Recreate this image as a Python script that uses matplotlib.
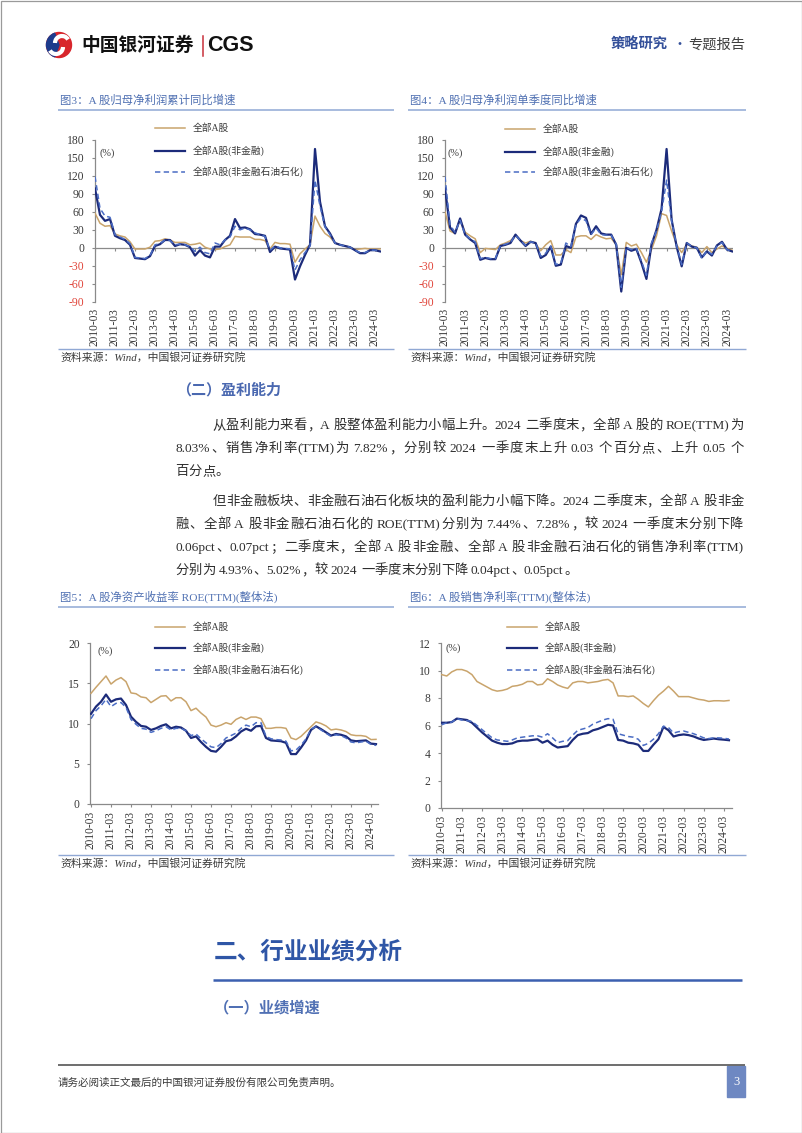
import numpy as np
import matplotlib
matplotlib.use('Agg')
import matplotlib.pyplot as plt
from matplotlib.patches import Rectangle, Wedge, Arc

W, H = 802, 1133
CJK = 'Noto Sans CJK SC'
SERIF = ['Liberation Serif', CJK]
SANS = ['Liberation Sans', CJK]
plt.rcParams['font.family'] = SERIF

# ---------------- data ----------------
years = list(range(2010, 2025))
quarters = [f'{y}-{m}' for y in years for m in ('03', '06', '09', '12')][:58]
tick_labels = [f'{y}-03' for y in years]
series_names = ['全部A股', '全部A股(非金融)', '全部A股(非金融石油石化)']

# Fig3: cumulative YoY growth of net profit (%)
c3_all = [58, 41, 36, 37, 23, 20, 18, 10, -2, -2, -2, 1, 11, 12, 15, 13, 9, 9, 9, 5,
          6, 8, 1, -2, -3, -2, 2, 5, 19, 18, 18, 18, 14, 14, 12, -2, 9, 7, 7, 6,
          -24, -10, -2, 5, 53, 36, 24, 18, 8, 5, 3, 1, -3, -2, -1, -2, -2, -2]
c3_nf = [99, 55, 45, 48, 20, 16, 13, 5, -17, -18, -19, -14, 3, 6, 13, 13, 3, 6, 5, 1,
         -13, -4, -13, -16, 2, 2, 13, 20, 48, 33, 34, 31, 23, 22, 20, -7, 2, -1, -2, -3,
         -53, -31, -12, 5, 165, 77, 36, 24, 8, 5, 3, 1, -4, -9, -9, -4, -4, -6]
c3_nfp = [119, 66, 53, 51, 22, 18, 14, 7, -16, -17, -18, -13, 5, 7, 13, 12, 5, 6, 5, 2,
          -6, 1, -8, -10, 8, 5, 13, 18, 36, 30, 33, 30, 25, 22, 19, -4, 3, 0, -1, -2,
          -37, -20, -8, 3, 113, 70, 35, 22, 8, 5, 3, 1, -4, -8, -8, -4, -4, -5]

# Fig4: single-quarter YoY growth of net profit (%)
c4_all = [60, 28, 24, 48, 26, 20, 15, -8, -1, -2, -3, 5, 8, 12, 20, 12, 8, 11, 7, -5,
          5, 12, -12, -12, -3, -8, 18, 20, 20, 14, 22, 18, 15, 16, 5, -45, 9, 3, 6, -8,
          -24, -3, 20, 57, 54, 28, 5, -8, 6, 3, 1, -8, 2, -8, -2, 3, -1, -4]
c4_nf = [99, 34, 24, 49, 22, 14, 8, -20, -17, -19, -19, 3, 5, 8, 22, 12, 3, 10, 8, -17,
         -12, 2, -30, -28, 3, 0, 40, 54, 50, 23, 36, 24, 22, 22, 5, -73, 0, -5, -2, -25,
         -52, 5, 30, 65, 165, 47, 2, -31, 8, 2, 0, -16, -6, -13, 4, 10, -3, -6]
c4_nfp = [119, 38, 26, 46, 22, 15, 10, -18, -16, -18, -18, 4, 6, 9, 21, 12, 4, 10, 8, -14,
          -9, 3, -28, -26, 8, 2, 38, 50, 45, 22, 33, 22, 21, 21, 6, -66, 1, -3, -1, -22,
          -46, 8, 28, 60, 113, 45, 3, -28, 8, 2, 0, -18, -5, -11, 3, 9, -3, -6]

# Fig5: ROE (TTM) (%)
c5_all = [13.75, 14.5, 15.2, 15.9, 14.9, 15.4, 15.7, 15.2, 13.8, 13.7,
          13.3, 13.2, 12.6, 13.0, 13.4, 13.45, 12.8, 13.2, 13.2, 12.7,
          11.6, 11.9, 11.3, 10.8, 9.8, 9.6, 9.8, 10.1, 9.9, 10.5,
          10.8, 10.5, 10.8, 10.8, 10.6, 9.4, 9.4, 9.5, 9.5, 9.4,
          8.2, 8.0, 8.4, 9.0, 9.6, 10.2, 10.0, 9.7, 9.2, 9.3,
          9.2, 9.0, 8.6, 8.5, 8.5, 8.4, 8.0, 8.03]
c5_nf = [11.2, 12.1, 12.7, 13.6, 12.7, 13.0, 13.1, 12.3, 10.85, 10.2,
         9.7, 9.6, 9.2, 9.4, 9.7, 9.9, 9.4, 9.6, 9.5, 9.1,
         8.2, 8.4, 7.7, 7.1, 6.6, 6.5, 7.1, 7.8, 7.95, 8.4,
         9.0, 9.35, 9.1, 9.65, 9.7, 8.2, 7.9, 7.85, 7.8, 7.6,
         6.2, 6.2, 7.0, 7.9, 9.2, 9.65, 9.3, 8.9, 8.5, 8.7,
         8.6, 8.4, 7.9, 7.8, 7.85, 7.9, 7.5, 7.44]
c5_nfp = [10.6, 11.6, 12.2, 13.0, 12.1, 12.5, 12.6, 12.0, 10.5, 9.9,
          9.4, 9.3, 8.9, 9.1, 9.4, 9.6, 9.2, 9.4, 9.4, 9.1,
          8.5, 8.7, 8.1, 7.6, 7.1, 7.0, 7.5, 8.2, 8.5, 8.8,
          9.4, 9.8, 9.6, 10.1, 10.1, 8.4, 8.1, 8.0, 7.95, 7.8,
          6.6, 6.7, 7.3, 8.1, 9.3, 9.6, 9.2, 8.8, 8.4, 8.6,
          8.5, 8.2, 7.7, 7.6, 7.7, 7.8, 7.4, 7.28]

# Fig6: net profit margin (TTM) (%)
c6_all = [9.7, 9.6, 9.9, 10.07, 10.07, 9.95, 9.7, 9.2, 9.0, 8.8,
          8.6, 8.5, 8.55, 8.65, 8.85, 8.9, 9.0, 9.2, 9.2, 8.95,
          9.0, 9.4, 9.2, 8.95, 8.8, 8.7, 9.1, 9.2, 9.2, 9.1,
          9.15, 9.2, 9.3, 9.35, 9.1, 8.15, 8.15, 8.1, 8.15, 7.9,
          7.6, 7.35, 7.8, 8.2, 8.5, 8.85, 8.5, 8.1, 8.1, 8.1,
          8.0, 7.9, 7.85, 7.75, 7.8, 7.8, 7.78, 7.82]
c6_nf = [6.2, 6.2, 6.25, 6.5, 6.45, 6.4, 6.2, 5.85, 5.5, 5.2,
         4.9, 4.75, 4.65, 4.65, 4.7, 4.85, 4.9, 4.9, 4.95, 5.0,
         4.75, 4.9, 4.6, 4.4, 4.45, 4.5, 4.95, 5.3, 5.4, 5.45,
         5.65, 5.75, 5.9, 6.05, 6.0, 4.95, 4.9, 4.75, 4.7, 4.6,
         4.15, 4.15, 4.6, 5.0, 5.9, 5.65, 5.2, 5.3, 5.35, 5.3,
         5.2, 5.05, 4.95, 5.0, 5.05, 5.0, 4.97, 4.93]
c6_nfp = [6.05, 6.2, 6.25, 6.5, 6.4, 6.35, 6.3, 6.0, 5.7, 5.4,
          5.1, 4.95, 4.9, 4.85, 4.95, 5.1, 5.15, 5.2, 5.25, 5.25,
          5.15, 5.4, 5.1, 4.75, 4.85, 4.9, 5.3, 5.65, 5.75, 5.85,
          6.1, 6.25, 6.4, 6.5, 6.45, 5.4, 5.3, 5.2, 5.15, 5.0,
          4.55, 4.7, 5.0, 5.4, 5.95, 5.85, 5.45, 5.55, 5.6, 5.5,
          5.4, 5.25, 5.1, 5.05, 5.1, 5.1, 5.07, 5.02]

titles = ['图3：A 股归母净利润累计同比增速', '图4：A 股归母净利润单季度同比增速',
          '图5：A 股净资产收益率 ROE(TTM)(整体法)', '图6：A 股销售净利率(TTM)(整体法)']
source_text = '资料来源：Wind，中国银河证券研究院'

para1 = ['从盈利能力来看，A 股整体盈利能力小幅上升。2024 二季度末，全部 A 股的 ROE(TTM)为',
         '8.03%、销售净利率(TTM)为 7.82%，分别较 2024 一季度末上升 0.03 个百分点、上升 0.05 个',
         '百分点。']
para2 = ['但非金融板块、非金融石油石化板块的盈利能力小幅下降。2024 二季度末，全部 A 股非金',
         '融、全部 A 股非金融石油石化的 ROE(TTM)分别为 7.44%、7.28%，较 2024 一季度末分别下降',
         '0.06pct、0.07pct；二季度末，全部 A 股非金融、全部 A 股非金融石油石化的销售净利率(TTM)',
         '分别为 4.93%、5.02%，较 2024 一季度末分别下降 0.04pct、0.05pct。']

# ---------------- style ----------------
TAN = '#c9a46c'
NAVY = '#1c2b7a'
DBLUE = '#4a6cc4'
AXG = '#8a8a8a'
TXT = '#3a3a3a'
RED = '#e0453a'
TITLEC = '#4f70b2'
ULINE = '#90a8d4'

fig = plt.figure(figsize=(W / 100, H / 100), dpi=100)
page = fig.add_axes([0, 0, 1, 1], zorder=0)
page.set_xlim(0, W)
page.set_ylim(H, 0)
page.axis('off')
renderer = fig.canvas.get_renderer()


def hline(x0, x1, y, color, lw):
    page.plot([x0, x1], [y, y], color=color, lw=lw, solid_capstyle='butt')


def tokenize(s):
    toks, cur, cur_sp, pend = [], '', False, False
    for ch in s:
        if ch == ' ':
            if cur:
                toks.append((cur, cur_sp, False))
                cur = ''
            pend = True
        elif ord(ch) >= 0x2E80:
            if cur:
                toks.append((cur, cur_sp, False))
                cur = ''
            toks.append((ch, pend, True))
            pend = False
        else:
            if not cur:
                cur_sp = pend
                pend = False
            cur += ch
    if cur:
        toks.append((cur, cur_sp, False))
    return toks


def put_line(s, x0, x1, y, size, color, justify=True):
    toks = tokenize(s)
    em = size * 100 / 72
    arts, widths = [], []
    for t, sp, is_cjk in toks:
        a = page.text(0, y, t, fontsize=size, color=color, family=SERIF,
                      va='baseline', ha='left')
        if is_cjk:
            w = em
        else:
            w = a.get_window_extent(renderer).width
        arts.append(a)
        widths.append(w)
    spw = em * 0.25
    gaps = [spw if sp else 0 for _, sp, _ in toks[1:]]
    add = 0
    if justify and len(toks) > 1:
        add = ((x1 - x0) - sum(widths) - sum(gaps)) / (len(toks) - 1)
    x = x0
    for i, (a, w) in enumerate(zip(arts, widths)):
        if i > 0:
            x += gaps[i - 1] + add
        a.set_x(x + (0.04 * em if toks[i][2] else 0))
        x += w


def make_chart(left, top, bottom, xstep, xlim, ylim, yticks, data, zero_axis, pct_xy, legend_x, legend_y):
    right = left + (xlim[1] - xlim[0]) * xstep
    ax = fig.add_axes([left / W, 1 - bottom / H, (right - left) / W, (bottom - top) / H], zorder=2)
    ax.set_facecolor('none')
    x = np.arange(len(quarters))
    a_, nf_, nfp_ = data
    ax.plot(x, a_, color=TAN, lw=1.1, zorder=3)
    ax.plot(x, nf_, color=NAVY, lw=1.6, zorder=4)
    ax.plot(x, nfp_, color=DBLUE, lw=1.1, ls=(0, (3.5, 2.2)), zorder=5)
    ax.set_xlim(*xlim)
    ax.set_ylim(*ylim)
    for sp in ('top', 'right'):
        ax.spines[sp].set_visible(False)
    ax.spines['left'].set_color(AXG)
    ax.spines['left'].set_linewidth(0.9)
    tpos = [quarters.index(t) for t in tick_labels]
    ax.set_xticks(tpos)
    ax.set_xticklabels(tick_labels, rotation=90, fontsize=8.3, color=TXT, family=SERIF)
    ax.set_yticks(yticks)
    ax.set_yticklabels([str(v) for v in yticks], fontsize=8.4, family=SERIF)
    for lbl, v in zip(ax.get_yticklabels(), yticks):
        lbl.set_color(RED if v < 0 else TXT)
    ax.tick_params(axis='y', length=2.5, width=0.8, color=AXG, pad=5)
    if zero_axis:
        ax.spines['bottom'].set_visible(False)
        ax.tick_params(axis='x', length=0, pad=4.5)
        ax.axhline(0, color=AXG, lw=0.9, zorder=2)
        tick_h = (ylim[1] - ylim[0]) * 0.018
        ax.vlines(tpos, -tick_h, 0, color=AXG, lw=0.8)
    else:
        ax.spines['bottom'].set_color(AXG)
        ax.spines['bottom'].set_linewidth(0.9)
        ax.tick_params(axis='x', length=2.5, width=0.8, color=AXG, pad=2.5)
    page.text(pct_xy[0], pct_xy[1], '(%)', fontsize=7.5, color=TXT, va='center', ha='left')
    # legend
    styles = [dict(color=TAN, lw=1.1), dict(color=NAVY, lw=1.6),
              dict(color=DBLUE, lw=1.1, ls=(0, (3.5, 2.2)))]
    for name, st, ly in zip(series_names, styles, legend_y):
        page.plot([legend_x, legend_x + 30], [ly, ly], **st)
        page.text(legend_x + 38, ly, name, fontsize=7.0, color=TXT, va='center', ha='left')
    return ax


# ---------------- page frame & header ----------------
page.add_patch(Rectangle((0.5, 0.5), W - 1, H - 1, fill=False, ec='#9a9a9a', lw=0.9))
# logo
page.add_patch(Wedge((59, 45), 12.5, 0, 360, color='#d8262c'))
page.add_patch(Wedge((59, 45), 12.5, 110, 250, color='#1d3b8c'))
page.add_patch(Arc((62, 43), 14, 14, theta1=180, theta2=330, color='white', lw=3))
page.add_patch(Arc((56, 47), 14, 14, theta1=0, theta2=150, color='white', lw=3))
page.text(81, 45.5, '中国银河证券', fontsize=13.5, weight='bold', family=CJK, color='#111111',
          va='center', ha='left')
page.plot([203, 203], [36, 56], color='#c8303a', lw=1.1)
page.text(207, 45.5, 'CGS', fontsize=15.5, weight='bold', family=SANS, color='#111111',
          va='center', ha='left')
page.text(611, 45, '策略研究', fontsize=10.3, weight='bold', family=CJK, color='#34509a',
          va='center', ha='left')
page.text(679, 45, '·', fontsize=10, family=CJK, color='#34509a', va='center', ha='center')
page.text(688, 45, '专题报告', fontsize=10.3, family=CJK, color='#404040', va='center', ha='left')

# ---------------- chart titles, rules, sources ----------------
for tx, ty, t in [(60, 100, titles[0]), (410, 100, titles[1]), (60, 597, titles[2]), (410, 597, titles[3])]:
    page.text(tx, ty, t, fontsize=8.2, color=TITLEC, va='center', ha='left')
for x0, x1 in [(58, 394), (408, 746)]:
    hline(x0, x1, 109.5, ULINE, 1.1)
    hline(x0, x1, 348.5, ULINE, 1.0)
    hline(x0, x1, 607, ULINE, 1.1)
    hline(x0, x1, 855, ULINE, 1.0)
for sx, sy in [(60, 357), (410, 357), (60, 863), (410, 863)]:
    page.text(sx, sy, source_text, fontsize=7.8, color=TXT, style='italic', va='center', ha='left')

# ---------------- charts ----------------
make_chart(95, 140, 301.7, 5.0, (0, 57.2), (-90, 180), list(range(-90, 181, 30)),
           (c3_all, c3_nf, c3_nfp), True, (99, 153), 155, (128, 151, 172))
make_chart(445, 140, 301.7, 5.036, (0, 57.2), (-90, 180), list(range(-90, 181, 30)),
           (c4_all, c4_nf, c4_nfp), True, (448, 153), 505, (129, 152, 172))
make_chart(90, 643, 804, 5.0, (-0.2, 57.4), (0, 20), [0, 5, 10, 15, 20],
           (c5_all, c5_nf, c5_nfp), False, (97, 651), 155, (627, 648, 670))
make_chart(441, 643, 808, 5.04, (-0.14, 57.5), (0, 12), [0, 2, 4, 6, 8, 10, 12],
           (c6_all, c6_nf, c6_nfp), False, (446, 648), 507, (627, 648, 670))

# ---------------- body text ----------------
page.text(176, 390, '（二）盈利能力', fontsize=10.8, weight='bold', family=CJK, color='#4a68b0',
          va='center', ha='left')
fs = 9.6
put_line(para1[0], 212, 743, 429, fs, '#2e2e2e')
put_line(para1[1], 175, 743, 452, fs, '#2e2e2e')
put_line(para1[2], 175, 743, 475, fs, '#2e2e2e', justify=False)
put_line(para2[0], 212, 743, 505, fs, '#2e2e2e')
put_line(para2[1], 175, 743, 528, fs, '#2e2e2e')
put_line(para2[2], 175, 743, 551, fs, '#2e2e2e')
put_line(para2[3], 175, 743, 574, fs, '#2e2e2e', justify=False)

# ---------------- bottom section ----------------
page.text(214, 952, '二、行业业绩分析', fontsize=17, weight='bold', family=CJK, color='#2f56a6',
          va='center', ha='left')
hline(213, 742, 980, '#3c60b0', 1.8)
page.text(214, 1007, '（一）业绩增速', fontsize=11, weight='bold', family=CJK, color='#5070b4',
          va='center', ha='left')
hline(58, 745, 1065, '#555555', 1.2)
page.text(58, 1083, '请务必阅读正文最后的中国银河证券股份有限公司免责声明。', fontsize=7.6,
          family=CJK, color='#3a3a3a', va='center', ha='left')
page.add_patch(Rectangle((727, 1066), 18, 31, color='#6e88c2'))
page.text(736, 1082, '3', fontsize=9, color='white', va='center', ha='center')

fig.savefig('out.png', dpi=100)
